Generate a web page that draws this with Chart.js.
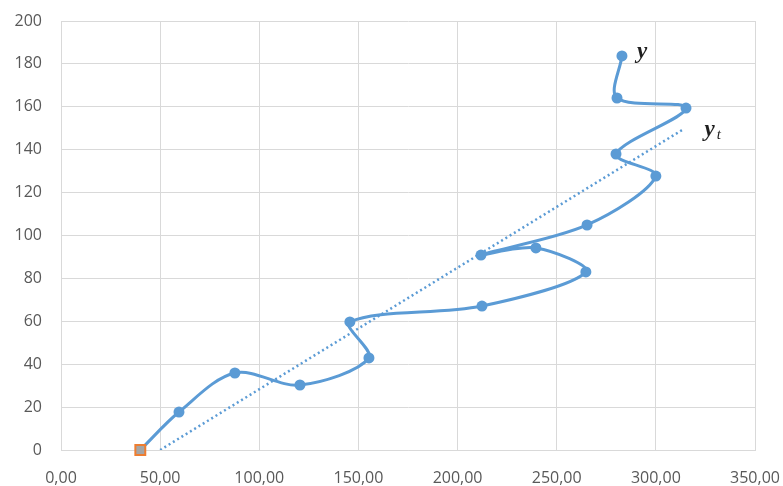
<!DOCTYPE html>
<html>
<head>
<meta charset="utf-8">
<script src="https://cdn.jsdelivr.net/npm/chart.js@4/dist/chart.umd.min.js"></script>
<style>
    html, body { margin: 0; padding: 0; background: #fff; }
    #wrap { width: 783px; height: 486px; }
</style>
</head>
<body>
<div id="wrap"><canvas id="chart" width="783" height="486"></canvas></div>
<script>
// data
var xValues = [40, 59.5, 87.7, 120.5, 155.3, 145.7, 212.3, 264.7, 239.5, 211.8, 265.3, 300, 279.9, 315.2, 280.4, 282.9];
var yValues = [0, 17.7, 35.9, 30.3, 42.9, 59.7, 67.1, 83, 94.2, 90.9, 104.9, 127.7, 138, 159.4, 164.1, 183.7];
var trendX = [50, 314];
var trendY = [0, 149.6];
var startX = [40];
var startY = [0];
var xTicks = [0, 50, 100, 150, 200, 250, 300, 350];
var yTicks = [0, 20, 40, 60, 80, 100, 120, 140, 160, 180, 200];

// series labels drawn next to the curves, [text, subscript, x, y]
var seriesLabels = [
    ['y', '', 290.5, 185.5],
    ['y', 't', 324.5, 149]
];

function toPoints(xs, ys) {
    return xs.map(function (x, i) { return { x: x, y: ys[i] }; });
}

var blue = '#5B9BD5';
var gridColor = '#d9d9d9';

// keep the plot area where the layout padding puts it
function noOverhang(scale) {
    scale.paddingLeft = 0;
    scale.paddingRight = 0;
    scale.paddingTop = 0;
    scale.paddingBottom = 0;
}

var labelPlugin = {
    id: 'seriesLabels',
    afterDatasetsDraw: function (chart) {
        var ctx = chart.ctx;
        var xs = chart.scales.x;
        var ys = chart.scales.y;
        ctx.save();
        ctx.fillStyle = '#1f1f1f';
        ctx.textBaseline = 'middle';
        ctx.textAlign = 'left';
        seriesLabels.forEach(function (l) {
            var px = xs.getPixelForValue(l[2]);
            var py = ys.getPixelForValue(l[3]);
            ctx.font = 'italic bold 23px "Liberation Serif", serif';
            ctx.fillText(l[0], px, py);
            if (l[1]) {
                var w = ctx.measureText(l[0]).width;
                ctx.font = 'italic 15px "Liberation Serif", serif';
                ctx.fillText(l[1], px + w + 2, py + 5);
            }
        });
        ctx.restore();
    }
};

var ctx = document.getElementById('chart');
var chart = new Chart(ctx, {
    type: 'scatter',
    data: {
        datasets: [{
            label: 'y',
            data: toPoints(xValues, yValues),
            showLine: true,
            borderColor: blue,
            backgroundColor: blue,
            borderWidth: 3,
            pointRadius: 5.5,
            pointBorderWidth: 0,
            tension: 0.33,
            order: 2
        }, {
            label: 'yt',
            data: toPoints(trendX, trendY),
            showLine: true,
            borderColor: blue,
            borderWidth: 2.5,
            borderDash: [2, 3],
            pointRadius: 0,
            order: 3
        }, {
            label: 'start',
            data: toPoints(startX, startY),
            pointStyle: 'rect',
            pointRadius: 7,
            backgroundColor: '#a5a5a5',
            borderColor: '#ED7D31',
            borderWidth: 2,
            clip: false,
            order: 1
        }]
    },
    options: {
        responsive: false,
        animation: false,
        layout: { padding: { left: 0, right: 28, top: 21, bottom: 0 } },
        plugins: {
            legend: { display: false },
            tooltip: { enabled: false }
        },
        scales: {
            x: {
                type: 'linear',
                min: 0,
                max: 350,
                afterBuildTicks: function (scale) {
                    scale.ticks = xTicks.map(function (v) { return { value: v }; });
                },
                afterFit: function (scale) { scale.height = 36; noOverhang(scale); },
                grid: { color: gridColor, drawTicks: false },
                border: { color: gridColor },
                ticks: {
                    padding: 19,
                    color: '#595959',
                    font: { family: '"Open Sans", sans-serif', size: 16 },
                    maxRotation: 0,
                    callback: function (v) { return v.toFixed(2).replace('.', ','); }
                }
            },
            y: {
                type: 'linear',
                min: 0,
                max: 200,
                afterBuildTicks: function (scale) {
                    scale.ticks = yTicks.map(function (v) { return { value: v }; });
                },
                afterFit: function (scale) { scale.width = 61; noOverhang(scale); },
                grid: { color: gridColor, drawTicks: false },
                border: { color: gridColor },
                ticks: {
                    padding: 19,
                    color: '#595959',
                    font: { family: '"Open Sans", sans-serif', size: 16 }
                }
            }
        }
    },
    plugins: [labelPlugin]
});
</script>
</body>
</html>
